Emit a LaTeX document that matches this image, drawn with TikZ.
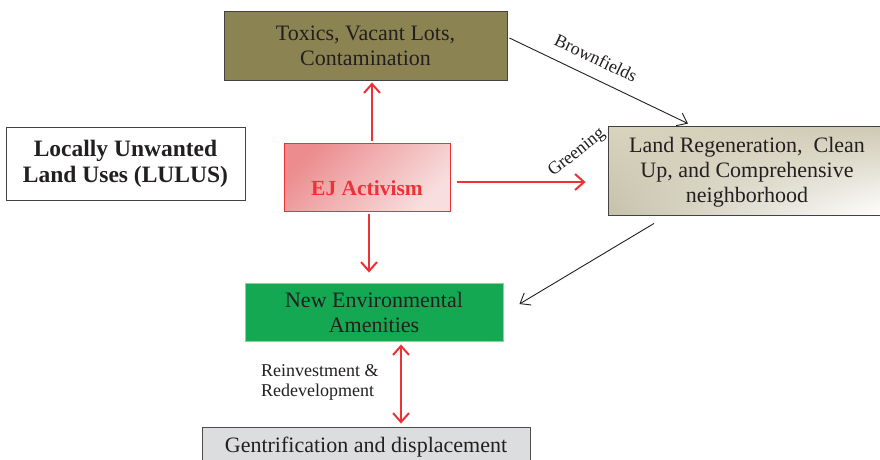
\documentclass[tikz,border=0pt]{standalone}
\usepackage{fontspec}
\setmainfont{Liberation Serif}
\usetikzlibrary{arrows.meta,calc,shadings}
\definecolor{txt}{RGB}{35,31,32}
\definecolor{olive}{RGB}{139,131,82}
\definecolor{ejred}{RGB}{237,50,55}
\definecolor{ejdark}{RGB}{236,140,142}
\definecolor{ejlight}{RGB}{248,222,222}
\definecolor{landA}{RGB}{216,212,190}
\definecolor{landB}{RGB}{206,201,178}
\definecolor{green1}{RGB}{20,168,82}
\definecolor{green2}{RGB}{140,212,150}
\definecolor{gent}{RGB}{220,221,222}
\tikzset{
  mainfont/.style={font=\fontsize{22}{25}\selectfont},
  boxbase/.style={draw=txt!85, line width=0.9pt, align=center, text=txt, inner sep=0pt, mainfont},
  txtnode/.style={align=center, text=txt, inner sep=0pt, mainfont},
  redarr/.style={draw=ejred, line width=2pt, -{Straight Barb[length=9pt,width=16pt,line width=2pt]}},
  redarr2/.style={draw=ejred, line width=2pt, {Straight Barb[length=9pt,width=16pt,line width=2pt]}-{Straight Barb[length=9pt,width=16pt,line width=2pt]}},
  blkarr/.style={draw=txt, line width=0.9pt, -{Straight Barb[length=9pt,width=14pt,line width=0.9pt]}},
  lbl/.style={text=txt, inner sep=0pt, font=\fontsize{18}{20}\selectfont}
}
\begin{document}
\begin{tikzpicture}[x=1pt,y=-1pt]
\useasboundingbox[fill=white] (0,0) rectangle (880,459);
% boxes
\node[boxbase, fill=olive, minimum width=283pt, minimum height=69pt] (toxics) at (365.5,45.5)
  {Toxics, Vacant Lots,\\Contamination};
\node[boxbase, fill=white, minimum width=239pt, minimum height=73pt,
  font=\fontsize{23.5}{26}\selectfont\bfseries] (lulus) at (125.5,163.5)
  {Locally Unwanted\\Land Uses (LULUS)};
\node[boxbase, draw=ejred, line width=1pt, top color=ejdark, bottom color=ejlight, shading angle=45,
  minimum width=166pt, minimum height=68pt] (ej) at (367,177) {};
\node[txtnode, text=ejred, font=\fontsize{21.5}{25}\selectfont\bfseries] (ejtext) at (367,188) {EJ Activism};
\node[boxbase, minimum width=274pt, minimum height=88pt] (land) at (746,171) {};
\shade[upper left=landA, upper right=landB, lower left=landB!96!black, lower right=white]
  (land.north west) rectangle (land.south east);
\draw[txt!85, line width=0.9pt] (land.north west) rectangle (land.south east);
\node[txtnode] (landtext) at (747,172)
  {Land Regeneration,\ \ Clean\\Up, and Comprehensive\\neighborhood};
\node[boxbase, draw=green2, fill=green1, minimum width=258pt, minimum height=58pt] (newenv) at (374,312)
  {New Environmental\\Amenities};
\node[boxbase, draw=txt!80, fill=gent, minimum width=328pt, minimum height=40pt] (gent) at (366,447) {};
\node[txtnode] (genttext) at (366,447) {Gentrification and displacement};
% red arrows
\draw[redarr] ($(ej.north)+(5,-2)$) -- ($(toxics.south)+(6.5,2)$);
\draw[redarr] ($(ej.east)+(6,5)$) -- ($(land.west)+(-23,11)$);
\draw[redarr] ($(ej.south)+(2,2)$) -- ($(newenv.north)+(-5,-10)$);
\draw[redarr2] ($(newenv.south)+(27,3)$) -- ($(gent.north)+(35,-3)$);
% black arrows
\draw[blkarr] ($(toxics.east)+(2,-7.5)$) -- ($(land.north)+(-58,-3)$);
\draw[blkarr] ($(land.south)+(-92,8)$) -- ($(newenv.east)+(16,-8)$);
% labels
\node[lbl, rotate=-25.7] (brown) at (596,58) {Brownfields};
\node[lbl, rotate=38.5] (green) at (577,153) {Greening};
\node[lbl, align=left, anchor=west] (reinv) at (261,382) {Reinvestment \&\\Redevelopment};
\end{tikzpicture}
\end{document}
